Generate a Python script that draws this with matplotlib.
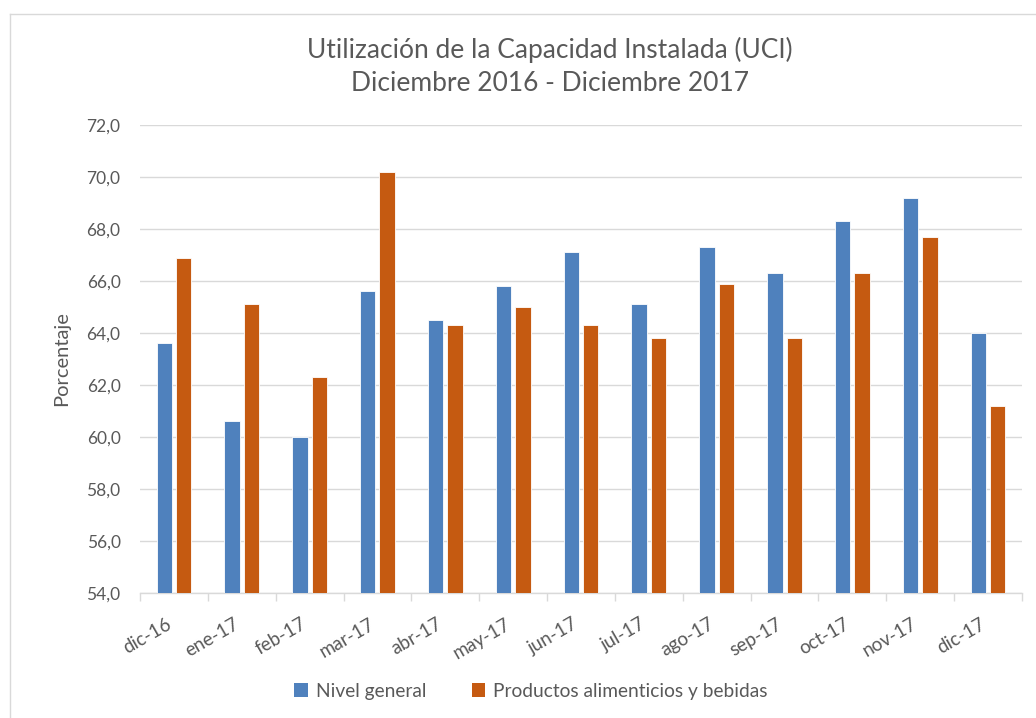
import numpy as np
import matplotlib
matplotlib.use("Agg")
import matplotlib.pyplot as plt
from matplotlib.lines import Line2D
from matplotlib.patches import Patch
from matplotlib.ticker import FuncFormatter

plt.rcParams['font.family'] = ['Lato', 'DejaVu Sans']

# data
meses = ["dic-16", "ene-17", "feb-17", "mar-17", "abr-17", "may-17", "jun-17",
         "jul-17", "ago-17", "sep-17", "oct-17", "nov-17", "dic-17"]
nivel_general = [63.6, 60.6, 60.0, 65.6, 64.5, 65.8, 67.1, 65.1, 67.3, 66.3, 68.3, 69.2, 64.0]
alimentos_bebidas = [66.9, 65.1, 62.3, 70.2, 64.3, 65.0, 64.3, 63.8, 65.9, 63.8, 66.3, 67.7, 61.2]
series_names = ["Nivel general", "Productos alimenticios y bebidas"]
yticks = [54, 56, 58, 60, 62, 64, 66, 68, 70, 72]

azul = "#4F81BD"
naranja = "#C55A11"
gris_txt = "#595959"
gris_linea = "#D9D9D9"

W, H = 1036, 718
fig = plt.figure(figsize=(W / 100, H / 100), dpi=100)
ax = fig.add_axes([140 / W, 1 - 593 / H, (1022 - 140) / W, (593 - 125) / H])

x = np.arange(len(meses))
bw = 0.226
ax.bar(x - 0.143, nivel_general, bw, color=azul, edgecolor="white", linewidth=0.6, zorder=3)
ax.bar(x + 0.143, alimentos_bebidas, bw, color=naranja, edgecolor="white", linewidth=0.6, zorder=3)

ax.set_ylim(54, 72)
ax.set_xlim(-0.5, len(meses) - 0.5)
ax.set_yticks(yticks)
ax.yaxis.set_major_formatter(FuncFormatter(lambda v, p: f"{v:.1f}".replace(".", ",")))
ax.yaxis.grid(True, color=gris_linea, linewidth=1, zorder=0)
ax.set_axisbelow(True)

for s in ["top", "right", "left"]:
    ax.spines[s].set_visible(False)
ax.spines["bottom"].set_color(gris_linea)
ax.spines["bottom"].set_linewidth(1)

ax.set_xticks(x)
ax.set_xticklabels(meses, rotation=30, ha="right", rotation_mode="default")
ax.set_xticks(np.arange(-0.5, len(meses)), minor=True)
ax.tick_params(axis="x", which="major", length=0, pad=16, labelsize=13.5, labelcolor=gris_txt)
ax.tick_params(axis="x", which="minor", length=6, color=gris_linea, width=1)
ax.tick_params(axis="y", length=0, pad=14, labelsize=12.5, labelcolor=gris_txt)

ax.set_ylabel("Porcentaje", fontsize=14.5, color=gris_txt, labelpad=12)

fig.text(550 / W, 1 - 58 / H, "Utilización de la Capacidad Instalada (UCI)",
         ha="center", va="baseline", fontsize=19, color=gris_txt)
fig.text(550 / W, 1 - 91 / H, "Diciembre 2016 - Diciembre 2017",
         ha="center", va="baseline", fontsize=19, color=gris_txt)

handles = [Patch(facecolor=azul), Patch(facecolor=naranja)]
fig.legend(handles, series_names, loc="center", bbox_to_anchor=(531 / W, 1 - 691 / H),
           ncol=2, frameon=False, fontsize=13.8, labelcolor=gris_txt,
           handlelength=0.7, handleheight=0.7, handletextpad=0.4, columnspacing=2.4)

# chart area border (only top and left edges are visible in the reference)
fig.add_artist(Line2D([10 / W, 1], [1 - 14 / H, 1 - 14 / H], color=gris_linea, lw=1))
fig.add_artist(Line2D([10 / W, 10 / W], [0, 1 - 14 / H], color=gris_linea, lw=1))

fig.savefig("out.png", dpi=100, facecolor="white")
